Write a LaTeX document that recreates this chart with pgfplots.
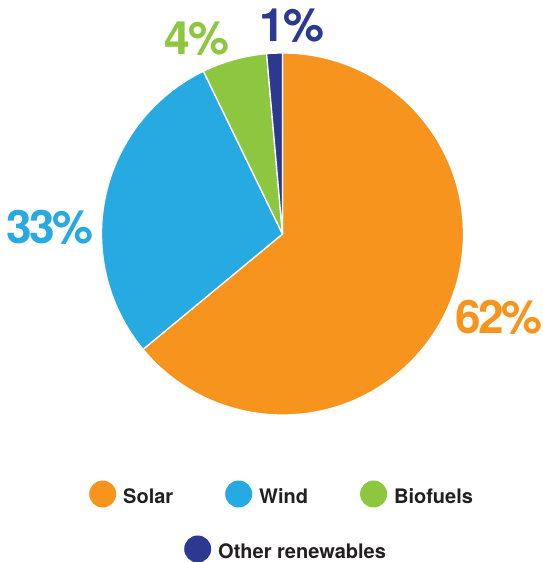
\documentclass[border=0pt]{standalone}
\usepackage{pgfplots}
\pgfplotsset{compat=1.18}
\usepackage{fontspec}
\setmainfont{TeX Gyre Heros}
\newfontfamily\bigfont[LetterSpace=-5]{TeX Gyre Heros}
\definecolor{solar}{HTML}{F7941D}
\definecolor{wind}{HTML}{27AAE1}
\definecolor{bio}{HTML}{8DC63F}
\definecolor{other}{HTML}{2B3990}
\definecolor{txt}{HTML}{231F20}
\begin{document}
\begin{tikzpicture}
\pgfplotsset{
  dotlegend/.style={legend image code/.code={\fill[##1, draw=none] (13.5pt,0.33em) circle (13.5pt); \path[draw=none, fill=none] (0pt,0.33em) -- (34pt,0.33em);}},
}
\begin{axis}[
  hide axis, scale only axis, width=543pt, height=562pt,
  xmin=0, xmax=543, ymin=0, ymax=562, clip=false,
  legend columns=3,
  legend style={draw=none, fill=none, at={(axis cs:89,68)}, anchor=west,
    inner sep=0pt, font=\fontsize{20}{24}\selectfont\bfseries\color{txt},
    nodes={inner sep=0pt},
    /tikz/every even column/.append style={column sep=52pt}},
  legend cell align=left,
]
\def\cum{90}
\pgfplotsforeachungrouped \v/\c in {64.0/solar, 28.8/wind, 5.8/bio, 1.4/other}{
  \pgfmathsetmacro\endang{\cum-3.6*\v}
  \edef\tmp{\noexpand\fill[\c, draw=white, line width=1.3pt, line join=round]
    (axis cs:282.5,328) -- ++(\cum:181pt) arc[start angle=\cum, end angle=\endang, radius=181pt] -- cycle;}
  \tmp
  \global\let\cum\endang
}
\addlegendimage{dotlegend, solar}\addlegendentry{Solar}
\addlegendimage{dotlegend, wind}\addlegendentry{Wind}
\addlegendimage{dotlegend, bio}\addlegendentry{Biofuels}
\node[solar, inner sep=0pt, font=\fontsize{46}{46}\bigfont\bfseries] at (axis cs:499,245) {62\%};
\node[wind, inner sep=0pt, font=\fontsize{46}{46}\bigfont\bfseries] at (axis cs:50,335) {33\%};
\node[bio, inner sep=0pt, font=\fontsize{46}{46}\bigfont\bfseries] at (axis cs:197,523) {4\%};
\node[other, inner sep=0pt, font=\fontsize{46}{46}\bigfont\bfseries] at (axis cs:292,536) {1\%};
\end{axis}
\begin{axis}[
  hide axis, scale only axis, width=543pt, height=562pt,
  xmin=0, xmax=543, ymin=0, ymax=562, clip=false,
  legend style={draw=none, fill=none, at={(axis cs:184,13)}, anchor=west,
    inner sep=0pt, font=\fontsize{20}{24}\selectfont\bfseries\color{txt},
    nodes={inner sep=0pt}},
  legend cell align=left,
]
\addlegendimage{dotlegend, other}\addlegendentry{Other renewables}
\end{axis}
\pgfresetboundingbox
\path (0,0) rectangle (543pt,562pt);
\end{tikzpicture}
\end{document}
